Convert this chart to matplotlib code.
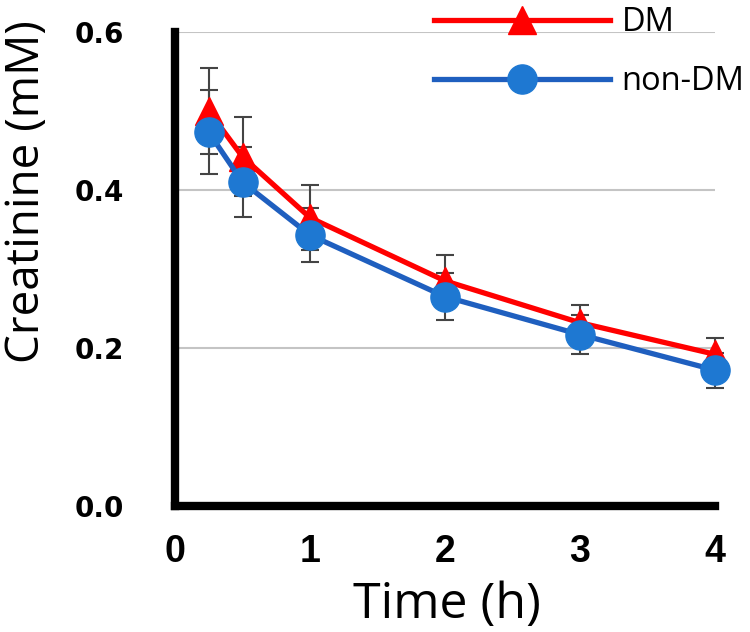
import matplotlib
matplotlib.use("Agg")
import matplotlib.pyplot as plt

time_h = [0.25, 0.5, 1, 2, 3, 4]
dm_mean = [0.500, 0.442, 0.365, 0.285, 0.232, 0.192]
dm_err = [0.054, 0.050, 0.041, 0.033, 0.022, 0.021]
non_dm_mean = [0.473, 0.410, 0.343, 0.265, 0.217, 0.172]
non_dm_err = [0.053, 0.044, 0.034, 0.030, 0.025, 0.022]
x_ticks = [0, 1, 2, 3, 4]
y_ticks = [0.0, 0.2, 0.4, 0.6]
y_tick_labels = ["0.0", "0.2", "0.4", "0.6"]

fig = plt.figure(figsize=(7.5, 6.32), dpi=100)
ax = fig.add_axes([175/750, 1-506/632, (715-175)/750, (506-32)/632])

ax.set_xlim(0, 4)
ax.set_ylim(0, 0.6)
ax.yaxis.grid(True, color="#c4c4c4", lw=1.5)
ax.set_axisbelow(True)

red = "#ff0000"
blue_line = "#1f5fbf"
blue_mk = "#1e78d2"

ax.errorbar(time_h, dm_mean, yerr=dm_err, fmt="none", ecolor="#444444",
            elinewidth=1.5, capsize=6.5, capthick=1.5, zorder=2, clip_on=False)
ax.errorbar(time_h, non_dm_mean, yerr=non_dm_err, fmt="none", ecolor="#444444",
            elinewidth=1.5, capsize=6.5, capthick=1.5, zorder=2, clip_on=False)
ax.plot(time_h, dm_mean, color=red, lw=3.8, marker="^", ms=20,
        markerfacecolor=red, markeredgecolor=red, label="DM", zorder=3, clip_on=False)
ax.plot(time_h, non_dm_mean, color=blue_line, lw=3.8, marker="o", ms=21,
        markerfacecolor=blue_mk, markeredgecolor=blue_mk, label="non-DM", zorder=4, clip_on=False)

for s in ["top", "right"]:
    ax.spines[s].set_visible(False)
for s in ["left", "bottom"]:
    ax.spines[s].set_linewidth(6)
    ax.spines[s].set_color("black")

ax.set_xticks(x_ticks)
ax.set_xticklabels([str(t) for t in x_ticks])
ax.set_yticks(y_ticks)
ax.set_yticklabels(y_tick_labels)
ax.tick_params(axis="both", length=0)
ax.tick_params(axis="y", pad=37, labelsize=20)
ax.tick_params(axis="x", pad=20, labelsize=27)
for lab in ax.get_yticklabels():
    lab.set_fontweight("bold")
    lab.set_family("DejaVu Sans")
for lab in ax.get_xticklabels():
    lab.set_fontweight("bold")
    lab.set_family("Liberation Sans")

fig.text(27/750, 1-192/632, "Creatinine (mM)", rotation=90, ha="center", va="center",
         fontsize=33, family="Open Sans")
fig.text(447/750, 1-605/632, "Time (h)", ha="center", va="center",
         fontsize=36, family="Open Sans")

leg = ax.legend(loc="upper left", bbox_to_anchor=(434/750, 1-6/632),
                bbox_transform=fig.transFigure, frameon=False, fontsize=23.5,
                handlelength=5.4, handletextpad=0.35, labelspacing=0.8,
                numpoints=1, borderaxespad=0, borderpad=0.0)
for t in leg.get_texts():
    t.set_family("Open Sans")

fig.savefig("out.png", dpi=100)
